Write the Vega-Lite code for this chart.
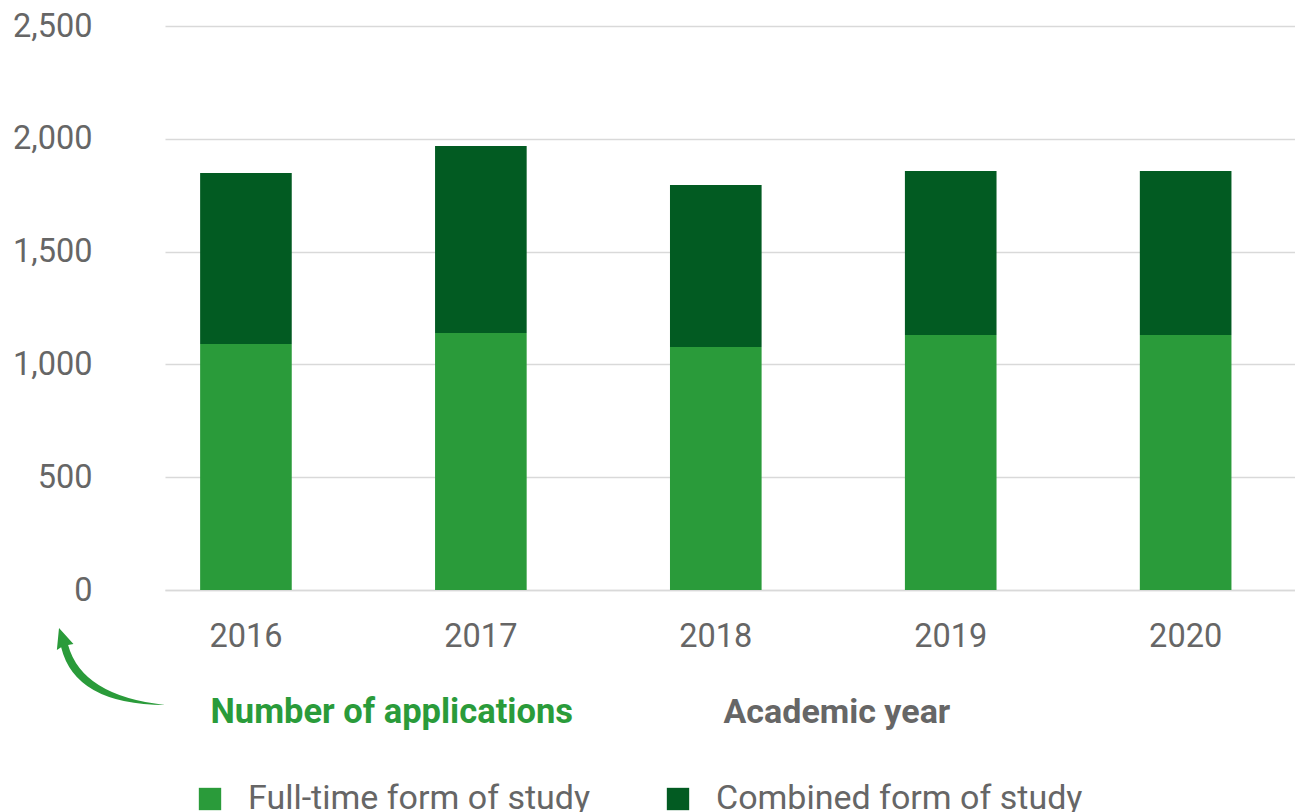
{
  "$schema": "https://vega.github.io/schema/vega-lite/v6.json",
  "width": 1130,
  "height": 564,
  "autosize": {"type": "none"},
  "padding": {"left": 165, "top": 26, "right": 0, "bottom": 222},
  "background": "white",
  "config": {
    "font": "Roboto",
    "view": {"stroke": null},
    "axis": {"labelFont": "Roboto", "titleFont": "Roboto"}
  },
  "layer": [
    {
      "data": {
        "values": [
          {"year": "2016", "form": "Full-time form of study", "rank": 1, "applications": 1090},
          {"year": "2016", "form": "Combined form of study", "rank": 2, "applications": 758},
          {"year": "2017", "form": "Full-time form of study", "rank": 1, "applications": 1139},
          {"year": "2017", "form": "Combined form of study", "rank": 2, "applications": 829},
          {"year": "2018", "form": "Full-time form of study", "rank": 1, "applications": 1077},
          {"year": "2018", "form": "Combined form of study", "rank": 2, "applications": 718},
          {"year": "2019", "form": "Full-time form of study", "rank": 1, "applications": 1130},
          {"year": "2019", "form": "Combined form of study", "rank": 2, "applications": 727},
          {"year": "2020", "form": "Full-time form of study", "rank": 1, "applications": 1130},
          {"year": "2020", "form": "Combined form of study", "rank": 2, "applications": 727}
        ]
      },
      "mark": {"type": "bar"},
      "encoding": {
        "x": {
          "field": "year",
          "type": "ordinal",
          "scale": {"paddingInner": 0.61, "paddingOuter": 0.21, "align": 0.356},
          "axis": {
            "title": "Academic year",
            "titleFontSize": 34,
            "titleFontWeight": "bold",
            "titleColor": "#666666",
            "titleAlign": "left",
            "titleBaseline": "alphabetic",
            "titleAnchor": "start",
            "titleX": 558,
            "titleY": 132,
            "labelAngle": 0,
            "labelFontSize": 32.5,
            "labelColor": "#666666",
            "labelPadding": 30,
            "ticks": false,
            "domain": true,
            "domainColor": "#d9d9d9",
            "domainWidth": 1.5
          }
        },
        "y": {
          "field": "applications",
          "type": "quantitative",
          "stack": "zero",
          "scale": {"domain": [0, 2500], "nice": false},
          "axis": {
            "values": [0, 500, 1000, 1500, 2000, 2500],
            "format": ",d",
            "title": "Number of applications",
            "titleFontSize": 34.5,
            "titleFontWeight": "bold",
            "titleColor": "#2a9b3a",
            "titleAngle": 0,
            "titleAlign": "left",
            "titleBaseline": "alphabetic",
            "titleAnchor": "start",
            "titleX": 45,
            "titleY": 696,
            "labelFontSize": 32.5,
            "labelColor": "#666666",
            "labelPadding": 73,
            "ticks": false,
            "domain": false,
            "grid": true,
            "gridColor": "#d9d9d9",
            "gridWidth": 1.5
          }
        },
        "color": {
          "field": "form",
          "type": "nominal",
          "scale": {
            "domain": ["Full-time form of study", "Combined form of study"],
            "range": ["#2a9b3a", "#025b22"]
          },
          "legend": {
            "title": null,
            "orient": "none",
            "legendX": 28,
            "legendY": 756,
            "direction": "horizontal",
            "symbolType": "square",
            "symbolSize": 500,
            "symbolStrokeWidth": 0,
            "labelFontSize": 34,
            "labelColor": "#666666",
            "labelOffset": 21,
            "columnPadding": 70,
            "padding": 0,
            "labelLimit": 0
          }
        },
        "order": {"field": "rank", "type": "quantitative"}
      }
    },
    {
      "data": {"values": [{"year": "2016", "applications": 0}]},
      "mark": {
        "type": "point",
        "shape": "M -0.98 -0.72 L -1.02 -0.31 L -0.94 -0.36 Q -0.68 0.71 1 0.72 Q -0.55 0.55 -0.81 -0.40 L -0.71 -0.42 Z",
        "filled": true,
        "color": "#2a9b3a",
        "opacity": 1,
        "size": 11449,
        "xOffset": -134.5,
        "yOffset": 76.5
      },
      "encoding": {
        "x": {"field": "year", "type": "ordinal"},
        "y": {"field": "applications", "type": "quantitative"}
      }
    }
  ]
}
